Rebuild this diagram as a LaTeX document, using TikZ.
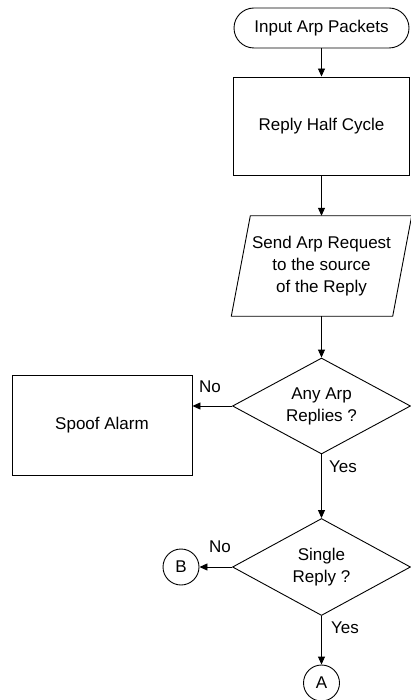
\documentclass[tikz,border=0pt]{standalone}
\usepackage{fontspec}
\setmainfont{Liberation Sans}
\usetikzlibrary{shapes.geometric,arrows.meta,calc}
\begin{document}
\begin{tikzpicture}[x=1pt,y=-1pt,
  every node/.style={font=\fontsize{17}{22}\selectfont},
  box/.style={draw, line width=0.9pt, inner sep=0pt, align=center},
  conn/.style={line width=0.9pt, -{Triangle[length=8pt,width=7pt]}},
  lbl/.style={inner sep=0pt}]
\useasboundingbox (0,0) rectangle (411,700);
\node[box, rounded corners=20pt, minimum width=175pt, minimum height=40pt] (start) at (321.5,28) {Input Arp Packets};
\node[box, minimum width=176pt, minimum height=98pt] (reply) at (321.5,126) {Reply Half Cycle};
\node[inner sep=0pt, minimum width=161pt, minimum height=100pt, align=center] (send) at (321.5,266) {Send Arp Request\\to the source\\of the Reply};
\draw[line width=0.9pt] ($(send.south west)+(-9.5,0)$) -- ($(send.north west)+(9.5,0)$) -- ($(send.north east)+(9.5,0)$) -- ($(send.south east)+(-9.5,0)$) -- cycle;
\node[box, diamond, aspect=1.85, minimum width=178pt, minimum height=96pt] (d1) at (321.5,406) {Any Arp\\Replies ?};
\node[box, minimum width=180pt, minimum height=100pt] (spoof) at (102,425) {Spoof Alarm};
\node[box, diamond, aspect=1.85, minimum width=178pt, minimum height=97pt] (d2) at (321.5,567) {Single\\Reply ?};
\node[box, circle, minimum size=36pt] (B) at (181,567) {B};
\node[box, circle, minimum size=36pt] (A) at (321.5,683) {A};
\draw[conn] (start.south) -- (reply.north);
\draw[conn] (reply.south) -- (send.north);
\draw[conn] (send.south) -- (d1.north);
\draw[conn] (d1.west) -- (d1.west -| spoof.east);
\draw[conn] (d1.south) -- (d2.north);
\draw[conn] (d2.west) -- (B.east);
\draw[conn] (d2.south) -- (A.north);
\node[lbl] (no1) at (210,387) {No};
\node[lbl] (yes1) at (343,467) {Yes};
\node[lbl] (no2) at (220,547) {No};
\node[lbl] (yes2) at (345,628) {Yes};
\end{tikzpicture}
\end{document}
